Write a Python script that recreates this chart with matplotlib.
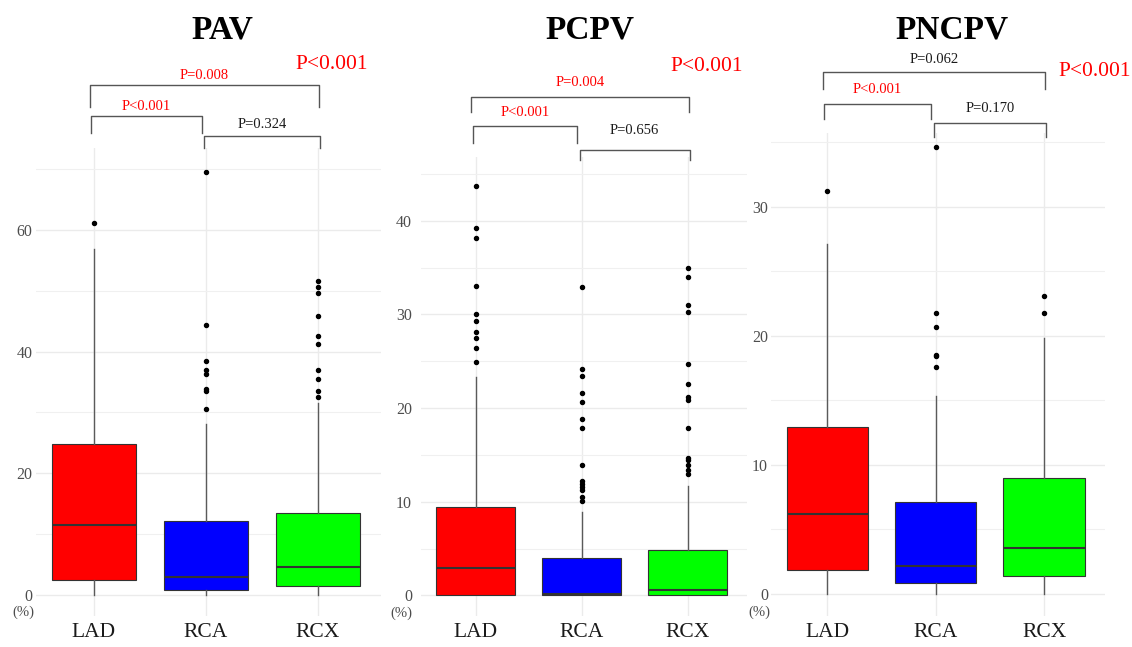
#!/usr/bin/env python3
"""Three box plots (PAV, PCPV, PNCPV) by coronary artery with significance brackets."""
import matplotlib
matplotlib.use("Agg")
import matplotlib.pyplot as plt
from matplotlib.ticker import MultipleLocator

plt.rcParams["font.family"] = ["Liberation Serif", "DejaVu Serif"]

W, H = 1132, 647

categories = ["LAD", "RCA", "RCX"]
box_colors = ["#ff0000", "#0000ff", "#00ff00"]

# PAV (%)
pav_q1 = [2.5, 0.8, 1.5]
pav_med = [11.4, 2.85, 4.6]
pav_q3 = [24.8, 12.2, 13.5]
pav_whislo = [0.0, 0.0, 0.0]
pav_whishi = [56.9, 28.1, 31.5]
pav_fliers = [
    [61.1],
    [69.6, 44.3, 38.4, 37.0, 36.3, 33.8, 33.5, 30.6],
    [51.6, 50.7, 49.6, 45.8, 42.5, 41.3, 37.0, 35.5, 33.6, 32.6],
]

# PCPV (%)
pcpv_q1 = [0.0, 0.0, 0.0]
pcpv_med = [2.9, 0.15, 0.57]
pcpv_q3 = [9.4, 4.0, 4.8]
pcpv_whislo = [0.0, 0.0, 0.0]
pcpv_whishi = [23.3, 8.9, 11.7]
pcpv_fliers = [
    [43.7, 39.2, 38.1, 33.0, 30.0, 29.3, 28.1, 27.5, 26.4, 24.9],
    [32.9, 24.2, 23.4, 21.6, 20.6, 18.8, 17.9, 13.9, 12.2, 11.9, 11.6, 11.2, 10.5, 10.1],
    [34.9, 34.0, 31.0, 30.2, 24.7, 22.6, 21.2, 20.9, 17.9, 14.7, 14.5, 13.9, 13.4, 13.0],
]

# PNCPV (%)
pncpv_q1 = [1.9, 0.87, 1.4]
pncpv_med = [6.2, 2.14, 3.6]
pncpv_q3 = [12.9, 7.1, 9.0]
pncpv_whislo = [0.0, 0.0, 0.0]
pncpv_whishi = [27.1, 15.3, 19.8]
pncpv_fliers = [
    [31.2],
    [34.6, 21.8, 20.7, 18.5, 18.4, 17.6],
    [23.1, 21.8],
]

# pairwise p-values: (LAD vs RCX, LAD vs RCA, RCA vs RCX) and overall
pav_p = ["P=0.008", "P<0.001", "P=0.324"]
pcpv_p = ["P=0.004", "P<0.001", "P=0.656"]
pncpv_p = ["P=0.062", "P<0.001", "P=0.170"]
overall_p = ["P<0.001", "P<0.001", "P<0.001"]
p_significant = [[True, True, False], [True, True, False], [False, True, False]]

titles = ["PAV", "PCPV", "PNCPV"]


def make_stats(q1, med, q3, lo, hi, fliers):
    return [
        dict(q1=a, med=b, q3=c, whislo=d, whishi=e, fliers=f, label=n)
        for a, b, c, d, e, f, n in zip(q1, med, q3, lo, hi, fliers, categories)
    ]


panels = [
    dict(stats=make_stats(pav_q1, pav_med, pav_q3, pav_whislo, pav_whishi, pav_fliers),
         p=pav_p, lad_px=94, step=112, top=148, ylim=(-3.5, 73.5), major=20,
         ypad=2.2, pct_dx=-1,
         br=[(83.9, 80.3), (78.8, 76.0), (75.5, 73.5)], txt=[85.4, 80.4, 77.3],
         big=(2.12, 87.2), title_x=222),
    dict(stats=make_stats(pcpv_q1, pcpv_med, pcpv_q3, pcpv_whislo, pcpv_whishi, pcpv_fliers),
         p=pcpv_p, lad_px=475.7, step=106, top=157, ylim=(-2.2, 46.8), major=10,
         ypad=6.2, pct_dx=-8,
         br=[(53.2, 51.6), (50.1, 48.3), (47.5, 46.5)], txt=[54.8, 51.5, 49.6],
         big=(2.18, 56.5), title_x=590),
    dict(stats=make_stats(pncpv_q1, pncpv_med, pncpv_q3, pncpv_whislo, pncpv_whishi, pncpv_fliers),
         p=pncpv_p, lad_px=827.3, step=108.4, top=133, ylim=(-1.7, 35.7), major=10,
         ypad=2.2, pct_dx=-1,
         br=[(40.4, 39.1), (37.95, 36.8), (36.5, 35.4)], txt=[41.4, 39.1, 37.6],
         big=(2.47, 40.5), title_x=952),
]

XLIM = (-0.52, 2.56)
BOTTOM = 616
bracket_x = [(-0.04, 2.01), (-0.03, 0.96), (0.98, 2.02)]

fig = plt.figure(figsize=(W / 100, H / 100), dpi=100)
fig.patch.set_facecolor("white")

for i, pn in enumerate(panels):
    left = pn["lad_px"] + XLIM[0] * pn["step"]
    width = (XLIM[1] - XLIM[0]) * pn["step"]
    ax = fig.add_axes([left / W, 1 - BOTTOM / H, width / W, (BOTTOM - pn["top"]) / H])

    bp = ax.bxp(
        pn["stats"], positions=range(3), widths=0.75, patch_artist=True,
        showcaps=False,
        boxprops=dict(edgecolor="#333333", linewidth=0.8),
        medianprops=dict(color="#333333", linewidth=1.5),
        whiskerprops=dict(color="#5a5a5a", linewidth=1.0),
        flierprops=dict(marker="o", markerfacecolor="black", markeredgecolor="black",
                        markersize=2.9),
        zorder=3,
    )
    for patch, c in zip(bp["boxes"], box_colors):
        patch.set_facecolor(c)

    ax.set_xlim(*XLIM)
    ax.set_ylim(*pn["ylim"])
    ax.yaxis.set_major_locator(MultipleLocator(pn["major"]))
    ax.yaxis.set_minor_locator(MultipleLocator(pn["major"] / 2))
    ax.set_xticks(range(3))
    ax.set_xticklabels(categories)
    ax.grid(True, which="major", color="#ebebeb", linewidth=1.0, zorder=0)
    ax.grid(True, which="minor", axis="y", color="#f0f0f0", linewidth=0.8, zorder=0)
    ax.set_axisbelow(True)
    for s in ax.spines.values():
        s.set_visible(False)
    ax.tick_params(axis="both", which="both", length=0)
    ax.tick_params(axis="y", labelsize=11.5, labelcolor="#4d4d4d", pad=pn["ypad"])
    ax.tick_params(axis="x", labelsize=15.5, labelcolor="#1a1a1a", pad=5)
    ax.annotate("(%)", xy=(0, 0), xycoords=("axes fraction", "data"),
                xytext=(pn["pct_dx"], -18), textcoords="offset pixels",
                ha="right", va="center", fontsize=10.5, color="#4d4d4d")

    # significance brackets
    for j, ((xa, xb), (ytop, yleg), ty) in enumerate(zip(bracket_x, pn["br"], pn["txt"])):
        ax.plot([xa, xa, xb, xb], [yleg, ytop, ytop, yleg], color="#555555",
                linewidth=1.0, clip_on=False, zorder=4)
        col = "#ff0000" if p_significant[i][j] else "#1a1a1a"
        ax.text((xa + xb) / 2, ty, pn["p"][j], ha="center", va="center",
                fontsize=10.5, color=col, clip_on=False)
    ax.text(pn["big"][0], pn["big"][1], overall_p[i], ha="center", va="center",
            fontsize=15.5, color="#ff0000", clip_on=False)

    fig.text(pn["title_x"] / W, 1 - 30 / H, titles[i], ha="center", va="center",
             fontsize=24, fontweight="bold", color="black")

fig.savefig("out.png", dpi=100)
